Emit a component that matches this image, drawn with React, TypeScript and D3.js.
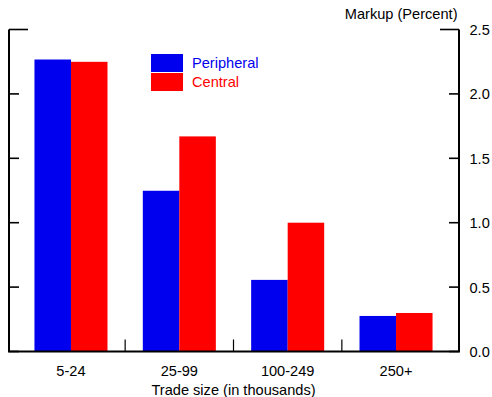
import React from "react";
import * as d3 from "d3";

const categories = ["5-24", "25-99", "100-249", "250+"];
const peripheral = [2.267, 1.248, 0.556, 0.276];
const central = [2.249, 1.67, 1.0, 0.299];
const yTicks = [0, 0.5, 1.0, 1.5, 2.0, 2.5];
const seriesNames = ["Peripheral", "Central"];
const seriesColors = ["#0000ee", "#ff0000"];

const W = 492;
const H = 397;
const left = 9;
const right = 459;
const top = 29.5;
const bottom = 351.5;
const font = "Liberation Sans, Arial, sans-serif";
const fs = 14.6;

export default function App() {
  const x = d3.scaleBand<string>().domain(categories).range([16.8, 450.2]).paddingInner(0).paddingOuter(0);
  const y = d3.scaleLinear().domain([0, 2.5]).range([bottom, top]);
  const bw = x.bandwidth();
  const barW = bw * 0.337;
  const series = [peripheral, central];

  return (
    <svg width={W} height={H} style={{ position: "absolute", left: 0, top: 0 }} fontFamily={font}>
      <rect width={W} height={H} fill="#fff" />
      {series.map((vals, si) =>
        vals.map((v, i) => {
          const cx = x(categories[i])! + bw / 2;
          const x0 = si === 0 ? cx - barW : cx;
          return (
            <rect key={`${si}-${i}`} x={x0} y={y(v)} width={barW} height={y(0) - y(v)} fill={seriesColors[si]} />
          );
        })
      )}
      {/* frame: left, right, bottom */}
      <path d={`M${left},${top} V${bottom} H${right} V${top}`} fill="none" stroke="#000" strokeWidth={2} />
      {/* y ticks on both sides, pointing inward */}
      {yTicks.map((t) => {
        const len = t === 2.5 ? 19 : 10;
        return (
          <g key={t}>
            <line x1={left} x2={left + len} y1={y(t)} y2={y(t)} stroke="#000" strokeWidth={1.6} />
            <line x1={right - len} x2={right} y1={y(t)} y2={y(t)} stroke="#000" strokeWidth={1.6} />
            <text x={469.5} y={y(t) + 5.5} fontSize={fs} fill="#000">
              {t.toFixed(1)}
            </text>
          </g>
        );
      })}
      {/* category separators */}
      {categories.slice(1).map((c) => (
        <line key={c} x1={x(c)!} x2={x(c)!} y1={bottom} y2={bottom - 12} stroke="#000" strokeWidth={1.2} />
      ))}
      {categories.map((c) => (
        <text key={c} x={x(c)! + bw / 2} y={375.5} fontSize={fs} textAnchor="middle" fill="#000">
          {c}
        </text>
      ))}
      <text x={233.5} y={394.5} fontSize={fs} textAnchor="middle" fill="#000">
        Trade size (in thousands)
      </text>
      <text x={457.5} y={18.5} fontSize={fs} textAnchor="end" fill="#000">
        Markup (Percent)
      </text>
      {/* legend */}
      {seriesNames.map((n, i) => (
        <g key={n}>
          <rect x={151} y={54 + i * 19} width={32} height={18} fill={seriesColors[i]} />
          <text x={192} y={68 + i * 19} fontSize={fs} fill={seriesColors[i]}>
            {n}
          </text>
        </g>
      ))}
    </svg>
  );
}
